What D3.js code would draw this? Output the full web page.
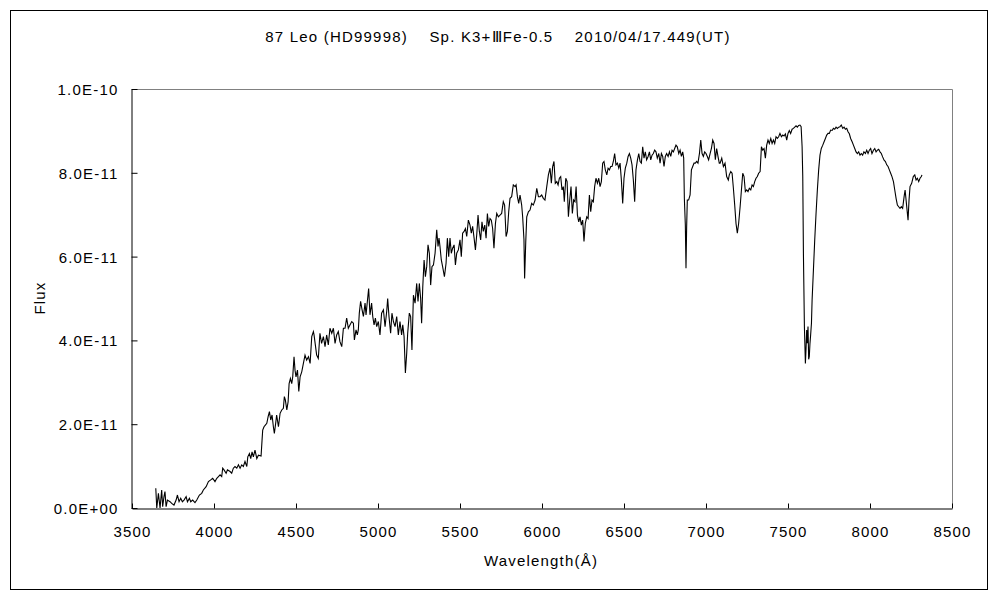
<!DOCTYPE html>
<html><head><meta charset="utf-8">
<script src="https://cdn.jsdelivr.net/npm/d3@7/dist/d3.min.js"></script>
<style>body{margin:0;background:#fff}text{font-family:"Liberation Sans",Arial,sans-serif;fill:#000;letter-spacing:1.2px}</style>
</head><body><svg id="c" width="1000" height="600"></svg>
<script>
const title = "87 Leo (HD99998)    Sp. K3+ⅢFe-0.5    2010/04/17.449(UT)";
const xLabel = "Wavelength(Å)";
const yLabel = "Flux";
const xTicks = [3500,4000,4500,5000,5500,6000,6500,7000,7500,8000,8500];
const yTicks = [0,2,4,6,8,10];
const yTickLabels = ["0.0E+00","2.0E-11","4.0E-11","6.0E-11","8.0E-11","1.0E-10"];
// wavelength in Å, flux in units of 1e-11
const wavelength = [3645,3651,3661,3671,3681,3687,3695,3701,3708,3716,3732,3742,3756,3769,3777,3787,3797,3807,3817,3830,3838,3850,3858,3870,3884,3895,3911,3925,3935,3952,3966,3980,3992,4006,4017,4027,4037,4047,4053,4061,4074,4082,4098,4108,4118,4128,4139,4149,4159,4169,4179,4189,4200,4206,4216,4224,4232,4240,4250,4261,4271,4287,4293,4297,4305,4313,4322,4330,4338,4346,4354,4362,4368,4376,4382,4393,4403,4413,4423,4429,4435,4444,4452,4458,4466,4474,4480,4488,4494,4500,4509,4517,4525,4535,4545,4555,4565,4576,4586,4596,4606,
4610,4626,4636,4646,4656,4667,4677,4687,4697,4707,4718,4728,4738,4748,4758,
4768,4779,4789,4799,4809,4819,4829,4840,4850,4856,4866,4874,4880,4886,4894,4903,4911,4921,4927,4935,4943,4951,4961,4968,4976,4984,4992,5002,5012,5022,5033,5043,5053,5059,5067,5077,5085,5094,5104,5114,5124,5134,5144,5151,5159,5167,5175,5181,5191,5199,5207,5216,5226,5236,5244,5252,5260,5266,5273,5281,5289,5297,5305,5313,5321,5329,5338,5348,5358,5366,5372,5378,5386,5394,5405,5415,5423,5431,5439,5447,5455,5464,5472,5480,5490,5500,5508,5516,5525,5533,5541,5551,5561,5569,5577,5586,5594,5602,5610,5618,5626,5634,5642,5651,5659,5667,5675,5683,5691,5699,5707,5716,5724,5734,5744,5754,5764,5772,5781,5789,5797,5805,5815,5825,5836,5842,5850,5858,5866,5876,5882,5890,5894,5901,5907,5917,5927,5937,5947,5958,5968,5978,
5988,5998,6008,6018,6029,6039,6049,6057,6065,6073,6081,6090,6098,6106,6114,6122,6130,6136,6145,6153,6161,6169,6177,6185,6193,6201,6208,6216,6224,6232,6240,6248,6256,6264,6273,6281,6289,6297,6305,6313,6321,6329,6338,6346,6354,6362,6370,6378,6386,6395,6403,6411,6419,6427,6435,6443,6451,6460,6468,6476,6484,6492,6500,6508,6517,6525,6533,6541,6549,6557,6565,6573,6582,6590,6598,6606,6614,6622,6630,6638,6647,6655,6663,6671,6679,6687,6695,6703,6712,6720,6728,6736,6744,6752,6760,6769,6777,6785,6793,6801,6809,6817,6825,6834,6842,6850,6858,6864,6868,6874,6878,6882,6886,6894,6903,6911,6919,6927,6935,6943,6951,6960,6968,6976,6984,6992,7000,7008,7016,7025,7033,7041,7049,7057,7065,7073,7081,
7086,7096,7106,7116,7126,7136,7142,7151,7159,7167,7175,7183,7191,7199,7208,7216,7224,7232,7240,7248,7256,7264,7273,7281,7289,7297,7305,7313,7321,7330,7338,7346,7354,7362,7370,7378,7386,7395,7403,7411,7419,7427,7435,7443,7451,7460,7468,7476,7484,7492,7500,7508,7516,7525,7533,7541,7549,7557,7565,7573,7580,7586,7590,7594,7600,7606,7610,7614,7618,7622,7626,7630,7634,7638,7643,7647,7655,7663,7671,7679,7687,7695,7703,7712,7720,7728,7736,7744,7752,7760,7769,7777,7785,7793,7801,7809,7817,7825,7834,7842,7850,7858,7866,7874,7882,7891,7899,7907,7915,7923,7931,7939,7947,7955,7963,7972,7980,7988,7996,8004,8012,8021,8029,8037,8045,8053,8061,8069,8077,8086,8094,8102,8110,8118,8126,8134,8143,8151,8159,8167,8175,8183,8191,8199,8208,8214,8220,8226,8232,8238,8244,8254,8264,8273,8281,8289,8297,8305,8313,8317];
const flux = [0.47,0.0,0.35,0.0,0.43,0.03,0.27,0.39,0.03,0.19,0.15,0.11,0.07,0.19,0.31,0.15,0.23,0.15,0.19,0.27,0.15,0.23,0.15,0.19,0.13,0.19,0.31,0.35,0.43,0.51,0.63,0.67,0.71,0.63,0.71,0.75,0.79,0.75,0.95,0.91,0.83,0.91,0.87,0.83,0.95,0.99,0.95,1.03,0.95,1.03,0.99,1.11,0.99,1.22,1.30,1.18,1.34,1.22,1.38,1.18,1.26,1.24,1.62,1.86,1.94,1.98,2.02,2.18,2.30,2.10,2.22,1.94,1.78,2.02,2.22,1.94,2.26,2.34,2.38,2.66,2.58,2.34,2.54,2.97,3.09,2.97,3.13,3.61,3.29,3.13,3.29,2.78,3.13,3.25,3.45,3.65,3.53,3.61,3.45,4.09,4.21,
4.13,3.65,3.57,4.17,3.93,4.09,3.85,4.13,3.89,4.29,4.17,4.29,3.93,4.13,4.21,
3.97,3.85,4.29,4.29,4.53,4.29,4.37,4.45,4.41,4.01,4.25,4.13,4.25,4.65,4.93,4.73,4.57,4.89,4.61,4.93,5.24,4.61,4.89,4.57,4.37,4.53,4.33,4.45,4.13,4.65,4.73,4.33,4.69,5.00,4.57,4.17,4.65,4.45,4.33,4.57,4.13,4.45,4.13,4.37,4.09,3.22,3.69,4.17,4.65,4.57,3.77,5.08,4.89,5.36,4.93,5.36,5.00,4.41,5.28,5.92,5.52,5.76,6.28,6.08,5.32,5.76,5.80,6.08,6.64,6.24,6.44,6.24,5.92,5.76,5.52,5.84,6.44,6.00,6.44,6.08,6.20,6.28,5.80,6.08,6.16,6.40,6.00,6.56,6.60,6.67,6.48,6.87,6.75,6.56,6.72,6.44,6.16,6.52,6.99,6.60,6.40,6.83,6.60,6.75,6.44,7.03,6.72,6.91,6.87,6.67,6.20,6.79,7.03,6.95,6.99,7.03,7.31,7.23,6.48,6.60,7.07,7.39,7.43,7.71,7.67,7.71,7.43,7.27,7.47,7.23,6.95,6.40,5.48,6.36,6.95,7.07,7.11,7.27,7.23,7.35,7.63,7.43,
7.43,7.47,7.39,7.35,7.67,7.95,8.11,7.75,8.15,8.27,7.75,7.79,7.71,7.87,7.91,7.59,7.67,7.31,7.87,7.79,6.95,7.35,7.67,7.03,7.35,7.31,7.67,6.99,6.83,6.95,6.75,6.87,6.36,6.79,6.95,6.91,7.47,7.07,7.35,7.31,7.67,7.87,7.75,7.87,7.67,7.79,8.23,8.27,8.07,7.95,8.11,8.07,8.15,8.15,8.27,8.46,8.19,8.23,8.11,8.23,7.83,7.27,7.87,8.11,8.23,8.39,8.46,8.35,8.19,7.83,7.31,8.07,8.31,8.46,8.27,8.23,8.62,8.35,8.50,8.31,8.39,8.50,8.31,8.42,8.46,8.54,8.50,8.35,8.46,8.23,8.46,8.39,8.15,8.39,8.46,8.39,8.50,8.39,8.54,8.50,8.58,8.66,8.62,8.46,8.54,8.39,8.50,8.35,7.39,6.75,5.72,6.71,7.35,7.35,7.47,8.07,8.15,8.23,8.23,8.27,8.23,8.46,8.78,8.46,8.39,8.50,8.46,8.39,8.31,8.46,8.58,8.78,8.70,8.31,8.58,8.39,8.23,
8.23,8.35,8.15,8.23,7.91,7.83,7.95,8.03,7.99,7.63,7.23,6.79,6.56,6.79,7.19,7.59,7.99,7.91,7.55,7.59,7.55,7.63,7.59,7.71,7.67,7.79,7.87,7.91,7.99,8.03,8.62,8.54,8.58,8.35,8.66,8.78,8.70,8.82,8.70,8.78,8.70,8.86,8.82,8.86,8.94,8.86,8.90,8.88,8.93,8.78,8.94,9.01,8.94,9.04,9.06,9.09,9.12,9.09,9.13,9.14,9.10,8.62,7.91,6.08,4.33,3.45,3.80,4.25,3.93,4.33,3.55,3.62,3.93,4.13,4.41,4.97,5.68,6.40,7.03,7.59,8.07,8.42,8.58,8.66,8.74,8.82,8.90,8.94,8.94,9.02,9.01,9.06,9.04,9.09,9.06,9.09,9.10,9.14,9.06,9.09,9.04,9.06,8.98,8.93,8.82,8.74,8.66,8.58,8.50,8.46,8.50,8.42,8.46,8.42,8.50,8.46,8.54,8.46,8.54,8.58,8.46,8.54,8.58,8.50,8.54,8.56,8.50,8.46,8.38,8.30,8.27,8.19,8.15,8.07,7.99,7.91,7.79,7.59,7.39,7.23,7.19,7.15,7.19,7.15,7.43,7.59,7.35,7.11,6.87,7.35,7.67,7.75,7.91,7.95,7.83,7.87,7.79,7.87,7.91,7.95];

const svg = d3.select("#c");
const L = 132, R = 952, T = 89, B = 508;
const x = d3.scaleLinear().domain([3500, 8500]).range([L, R]);
const y = d3.scaleLinear().domain([0, 10]).range([B, T]);

svg.append("rect").attr("x", 10.5).attr("y", 10.5).attr("width", 977).attr("height", 579)
  .attr("fill", "none").attr("stroke", "#000").attr("stroke-width", 1);

// top & right frame (gray)
svg.append("path").attr("d", `M${L},${T+0.5}H${R+0.5}V${B}`).attr("fill", "none").attr("stroke", "#808080");

const xAxis = svg.append("g").attr("transform", `translate(0,${B+0.5})`)
  .call(d3.axisBottom(x).tickValues(xTicks).tickSizeInner(-5).tickSizeOuter(0).tickPadding(18).tickFormat(d3.format("d")));
const yAxis = svg.append("g").attr("transform", `translate(${L-0.5},0)`)
  .call(d3.axisLeft(y).tickValues(yTicks).tickSizeInner(-6).tickSizeOuter(0).tickPadding(13).tickFormat((d,i) => yTickLabels[i]));
[xAxis, yAxis].forEach(g => {
  g.select(".domain").attr("stroke", "#000");
  g.selectAll(".tick line").attr("stroke", "#000");
  g.selectAll(".tick text").style("font-size", "15px").style("font-family", "'Liberation Sans',Arial,sans-serif").attr("fill", "#000");
});
xAxis.selectAll(".tick text").attr("dy", "0.71em");
yAxis.selectAll(".tick text").attr("dy", "0.36em");

const line = d3.line().x((d, i) => x(wavelength[i])).y(d => y(d));
svg.append("path").datum(flux).attr("d", line).attr("fill", "none")
  .attr("stroke", "#000").attr("stroke-width", 1.1).attr("stroke-linejoin", "miter");

svg.append("text").attr("x", 498).attr("y", 42).attr("text-anchor", "middle")
  .style("font-size", "15px").style("white-space", "pre").text(title);
svg.append("text").attr("x", 541).attr("y", 566).attr("text-anchor", "middle")
  .style("font-size", "15px").text(xLabel);
svg.append("text").attr("transform", "translate(45,298) rotate(-90)").attr("text-anchor", "middle")
  .style("font-size", "15px").text(yLabel);
</script></body></html>
